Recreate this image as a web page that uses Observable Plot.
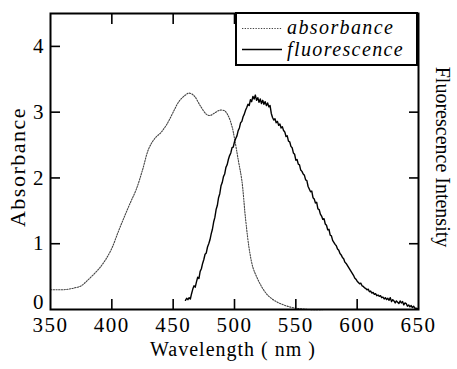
<!DOCTYPE html>
<html><head><meta charset="utf-8">
<script src="https://cdn.jsdelivr.net/npm/d3@7"></script>
<script src="https://cdn.jsdelivr.net/npm/@observablehq/plot@0.6"></script>
<style>body{margin:0;background:#fff}</style>
</head><body><div id="chart"></div>
<script>
// ---- data ----
const absWavelength = [350,355,360,365,370,375,380,385,390,395,400,405,410,415,420,425,430,435,440,445,450,455,460,463,467,472,477,480,484,488,492,495,498,500,503,506,509,512,515,518,522,526,530,535,540,545,550,555,560,580,600];
const absValue      = [0.30,0.30,0.30,0.31,0.33,0.36,0.44,0.53,0.63,0.76,0.93,1.17,1.40,1.62,1.83,2.12,2.44,2.60,2.69,2.82,3.00,3.17,3.26,3.29,3.25,3.10,2.97,2.95,2.99,3.03,3.02,2.94,2.78,2.60,2.28,1.96,1.38,0.92,0.64,0.50,0.35,0.24,0.17,0.11,0.07,0.04,0.02,0.01,0.00,0.00,0.00];

const fluoWavelength = [460,461,462,463,464,465,466,467,468,469,470,471,472,473,474,475,476,477,478,479,480,481,482,483,484,485,486,487,488,489,490,491,492,493,494,495,496,497,498,499,500,501,502,503,504,505,506,507,508,509,510,511,512,513,514,515,516,517,518,519,520,521,522,523,524,525,526,527,528,529,530,531,532,533,534,535,536,537,538,539,540,541,542,543,544,545,546,547,548,549,550,551,552,553,554,555,556,557,558,559,560,562,563,564,565,566,567,568,569,570,571,572,573,574,575,576,577,578,579,580,581,582,583,584,585,586,587,588,589,590,591,592,593,594,595,596,597,598,599,600,601,602,603,604,605,606,607,608,609,610,611,612,613,614,615,616,617,618,619,620,621,622,623,624,625,626,627,628,629,630,631,632,633,634,635,636,637,638,639,640,641,642,643,644,645,646,647,648,649,650];
const fluoValue = [0.14,0.17,0.15,0.18,0.16,0.24,0.31,0.36,0.34,0.42,0.49,0.47,0.58,0.62,0.70,0.76,0.84,0.86,0.95,1.00,1.06,1.15,1.22,1.33,1.40,1.52,1.58,1.70,1.76,1.88,1.93,2.02,2.06,2.16,2.20,2.28,2.34,2.38,2.46,2.47,2.55,2.60,2.64,2.72,2.76,2.84,2.86,2.93,2.97,3.03,3.07,3.12,3.10,3.19,3.16,3.24,3.20,3.26,3.18,3.22,3.15,3.20,3.13,3.18,3.12,3.16,3.10,3.14,3.08,3.10,2.98,2.92,2.88,2.90,2.84,2.86,2.80,2.82,2.76,2.78,2.72,2.70,2.63,2.64,2.56,2.55,2.48,2.46,2.38,2.36,2.27,2.28,2.21,2.20,2.12,2.10,2.06,2.04,1.97,1.96,1.87,1.79,1.80,1.70,1.68,1.62,1.63,1.53,1.52,1.45,1.42,1.37,1.38,1.30,1.28,1.21,1.22,1.13,1.12,1.05,1.02,0.99,0.97,0.92,0.90,0.85,0.83,0.79,0.77,0.72,0.70,0.67,0.64,0.61,0.58,0.55,0.52,0.48,0.46,0.43,0.41,0.39,0.40,0.36,0.35,0.33,0.32,0.30,0.31,0.27,0.28,0.25,0.26,0.23,0.24,0.21,0.22,0.20,0.21,0.18,0.19,0.16,0.18,0.15,0.17,0.14,0.18,0.12,0.15,0.13,0.10,0.13,0.11,0.09,0.13,0.10,0.12,0.07,0.10,0.09,0.05,0.07,0.04,0.06,0.03,0.05,0.02,0.02,0.01,0.02];

const xTickLabels = [350,400,450,500,550,600,650];
const xInnerTicks = [400,450,500,550,600];
const yTickLabels = [1,2,3,4];
const yZeroLabel = [0];
const seriesNames = ["absorbance","fluorescence"];
const xTitle = "Wavelength ( nm )";
const yTitle = "Absorbance";
const y2Title = "Fluorescence Intensity";

// ---- build ----
const absData = absWavelength.map((x,i)=>({x, y:absValue[i]}));
const fluoData = fluoWavelength.map((x,i)=>({x, y:fluoValue[i]}));
const blank = () => "";
const intFmt = d3.format("d");

const plot = Plot.plot({
  width:457, height:369,
  marginLeft:50, marginRight:39, marginTop:13, marginBottom:60,
  style:{background:"white", color:"black", overflow:"visible"},
  x:{domain:[350,650]},
  y:{domain:[0,4.5]},
  marks:[
    Plot.line(absData,{x:"x",y:"y",stroke:"#444",strokeWidth:1.1,strokeDasharray:"1.3,1.4",curve:"catmull-rom"}),
    Plot.line(fluoData,{x:"x",y:"y",stroke:"black",strokeWidth:1.4}),
    Plot.axisX(xInnerTicks,{anchor:"bottom",tickSize:10,dy:-10,tickFormat:blank,label:null,strokeWidth:1.6}),
    Plot.axisX(xInnerTicks,{anchor:"top",tickSize:10,dy:10,tickFormat:blank,label:null,strokeWidth:1.6}),
    Plot.axisY(yTickLabels,{anchor:"left",tickSize:10,dx:10,tickFormat:blank,label:null,strokeWidth:1.6}),
    Plot.axisY(yTickLabels,{anchor:"right",tickSize:10,dx:-10,tickFormat:blank,label:null,strokeWidth:1.6}),
    Plot.axisX(xTickLabels,{anchor:"bottom",tickSize:0,tickPadding:8,label:null,fontSize:21,tickFormat:intFmt}),
    Plot.axisY(yTickLabels,{anchor:"left",tickSize:0,tickPadding:7,label:null,fontSize:21,tickFormat:intFmt}),
    Plot.axisY(yZeroLabel,{anchor:"left",tickSize:0,tickPadding:7,label:null,fontSize:21,dy:-7,tickFormat:intFmt}),
    Plot.frame({strokeWidth:2})
  ]
});

const svg = d3.select(plot);
svg.selectAll('g[aria-label="x-axis tick label"] text').attr("letter-spacing","1.5px");

// legend
const lg = svg.append("g").attr("text-anchor","start");
lg.append("rect").attr("x",236).attr("y",13).attr("width",181).attr("height",52)
  .attr("fill","white").attr("stroke","black").attr("stroke-width",2);
lg.append("line").attr("x1",242).attr("x2",282).attr("y1",28.5).attr("y2",28.5)
  .attr("stroke","#444").attr("stroke-width",1.1).attr("stroke-dasharray","1.3,1.4");
lg.append("line").attr("x1",242).attr("x2",282).attr("y1",49.5).attr("y2",49.5)
  .attr("stroke","black").attr("stroke-width",1.4);
lg.append("text").attr("x",287).attr("y",34).attr("font-size",20).attr("font-style","italic")
  .attr("letter-spacing","1.4px").text(seriesNames[0]);
lg.append("text").attr("x",287).attr("y",55.5).attr("font-size",20).attr("font-style","italic")
  .attr("letter-spacing","1.4px").text(seriesNames[1]);

// axis titles
svg.append("text").attr("x",233).attr("y",356).attr("text-anchor","middle")
  .attr("font-size",20).attr("letter-spacing","1px").text(xTitle);
svg.append("text").attr("transform","translate(25,167) rotate(-90)").attr("text-anchor","middle")
  .attr("font-size",22).attr("letter-spacing","1.5px").text(yTitle);
svg.append("text").attr("transform","translate(436,157) rotate(90)").attr("text-anchor","middle")
  .attr("font-size",20).text(y2Title);

// serif font on every text
plot.style.setProperty("font-family", "'Liberation Serif', serif", "important");
svg.selectAll("text, tspan").each(function(){
  this.setAttribute("font-family", "Liberation Serif");
  this.style.setProperty("font-family", "'Liberation Serif', serif", "important");
});

document.getElementById("chart").appendChild(plot);
</script>
</body></html>
